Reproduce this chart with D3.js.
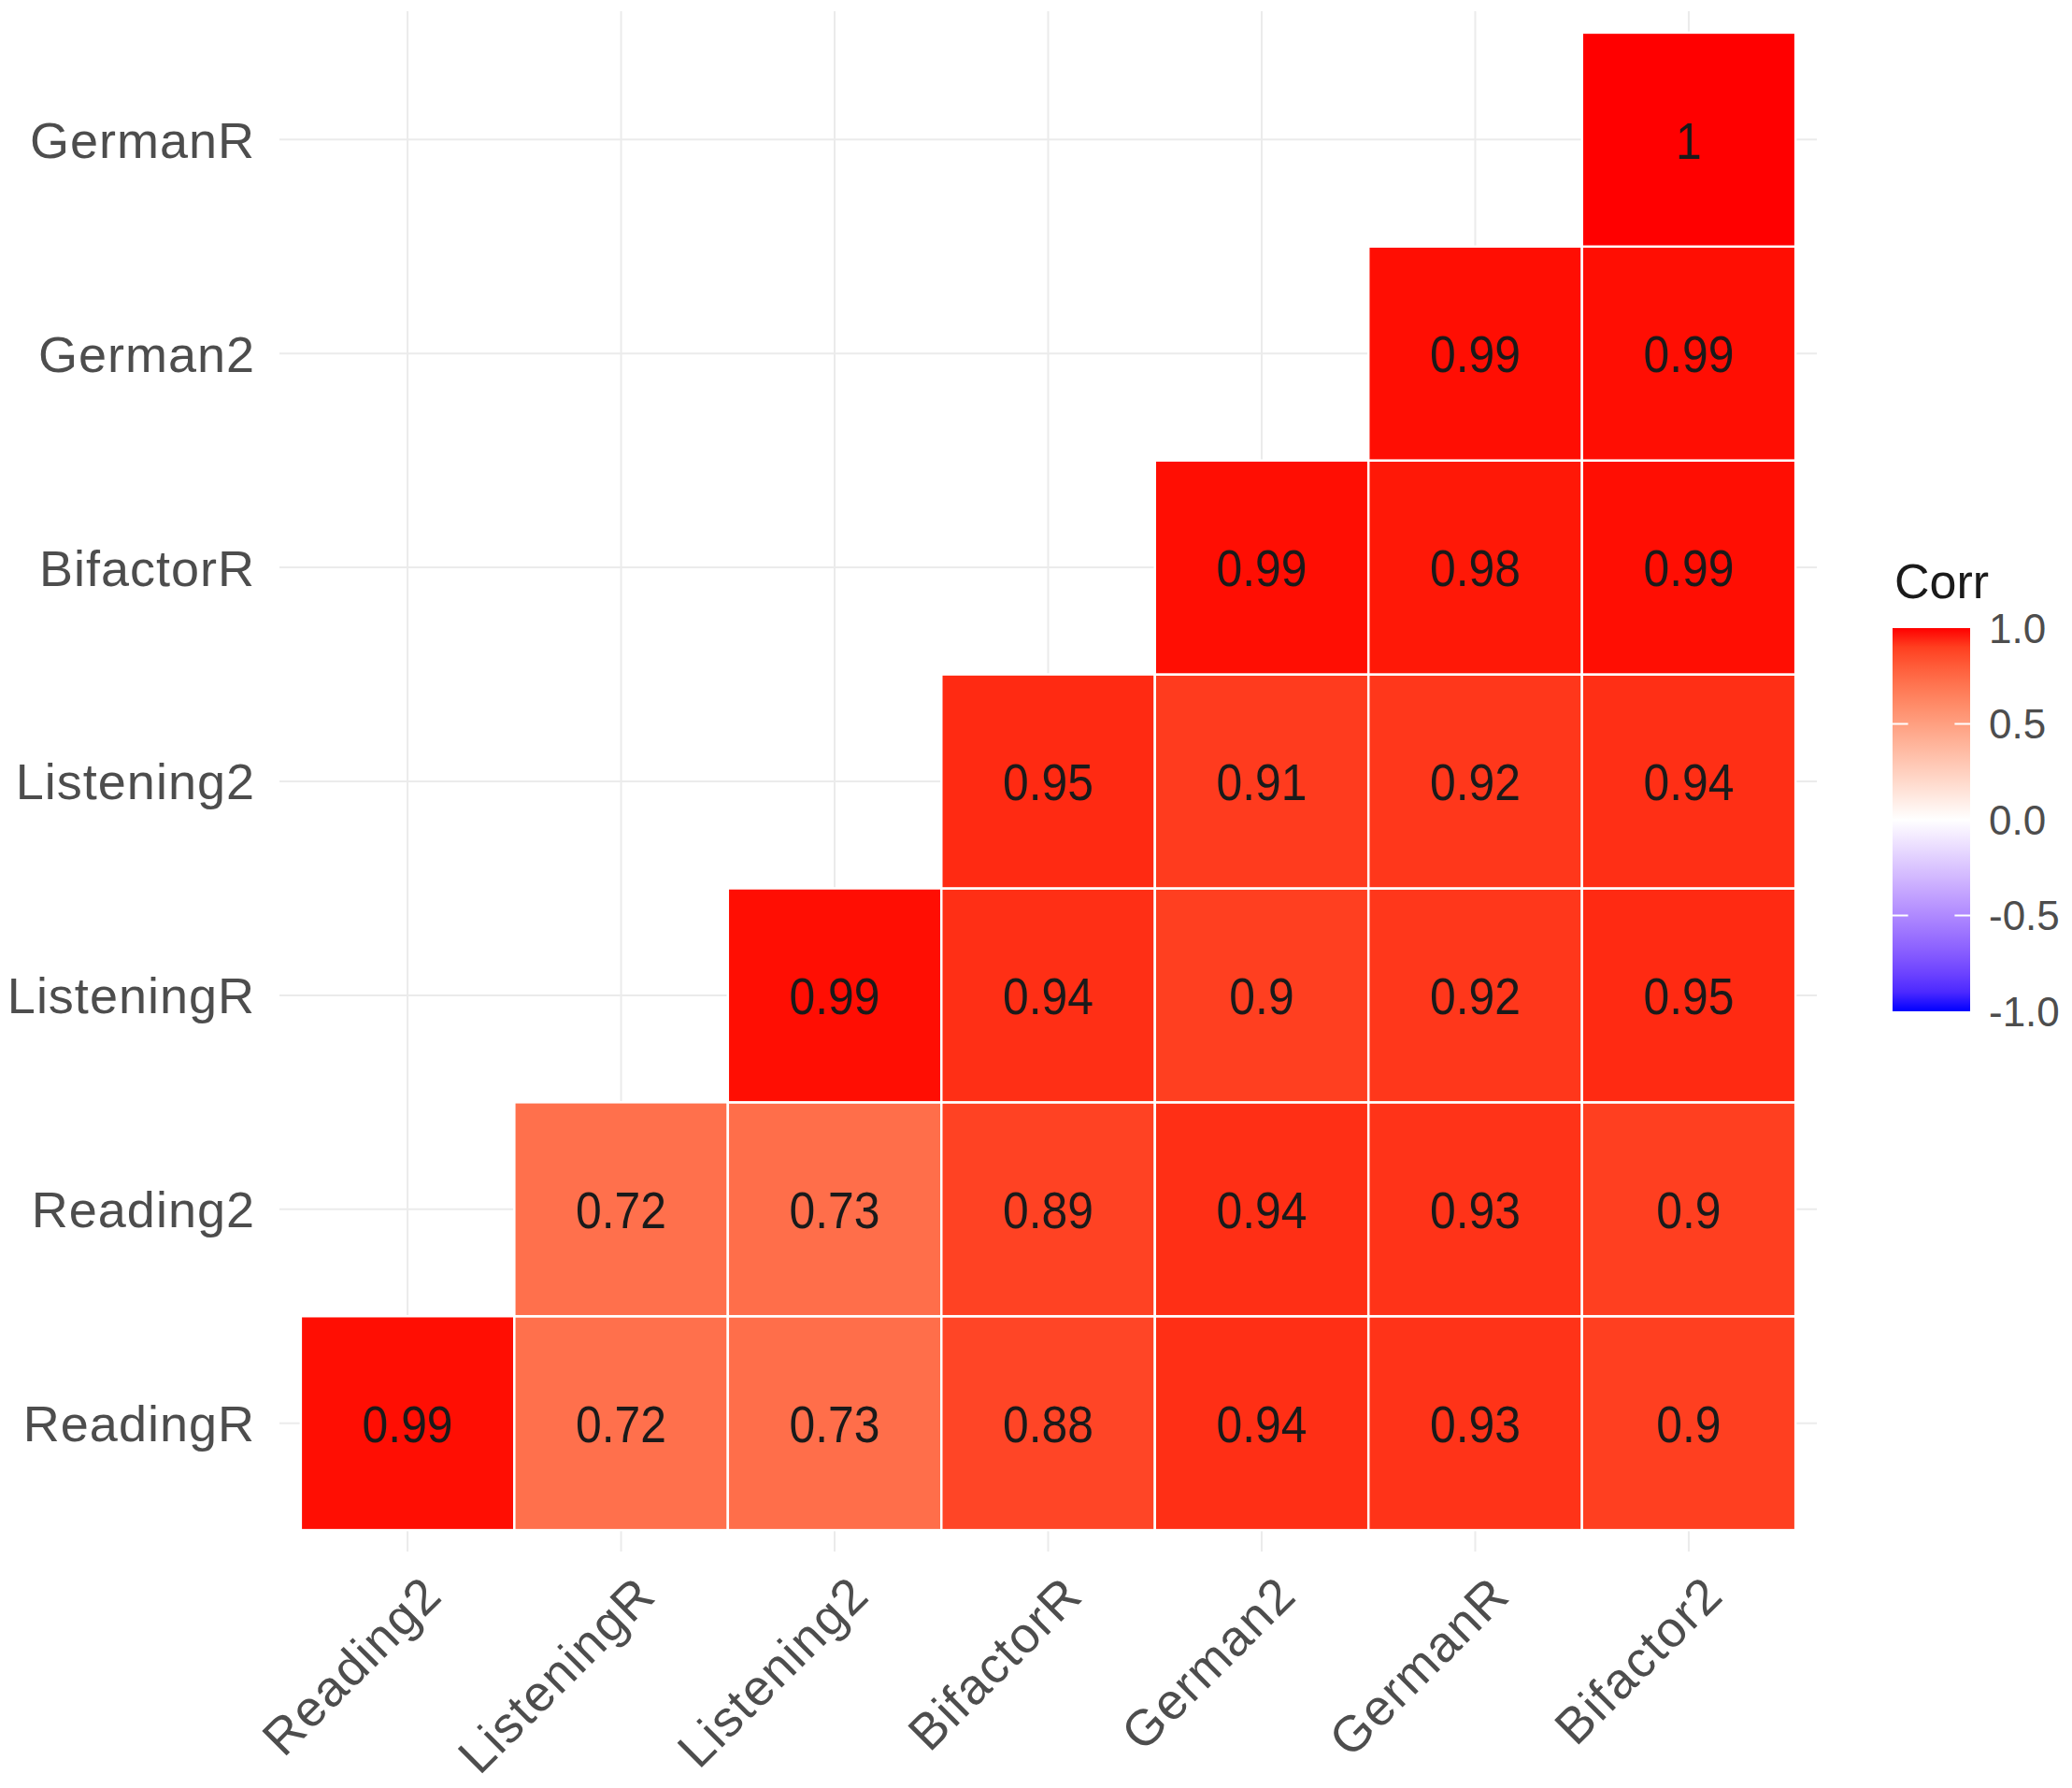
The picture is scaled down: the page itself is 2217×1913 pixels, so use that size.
<!DOCTYPE html>
<html>
<head>
<meta charset="utf-8">
<script src="https://cdn.jsdelivr.net/npm/d3@7"></script>
<style>
  html, body { margin: 0; padding: 0; background: #ffffff; }
  svg { display: block; }
  text { font-family: "Liberation Sans", Arial, sans-serif; }
</style>
</head>
<body>
<svg id="chart" width="2217" height="1913"></svg>
<script>
// ---- Data ----
const xCategories = ["Reading2", "ListeningR", "Listening2", "BifactorR", "German2", "GermanR", "Bifactor2"];
const yCategories = ["ReadingR", "Reading2", "ListeningR", "Listening2", "BifactorR", "German2", "GermanR"]; // bottom to top

// values per row (y category), aligned with xCategories; null = empty
const rowReadingR   = [0.99, 0.72, 0.73, 0.88, 0.94, 0.93, 0.9];
const rowReading2   = [null, 0.72, 0.73, 0.89, 0.94, 0.93, 0.9];
const rowListeningR = [null, null, 0.99, 0.94, 0.9, 0.92, 0.95];
const rowListening2 = [null, null, null, 0.95, 0.91, 0.92, 0.94];
const rowBifactorR  = [null, null, null, null, 0.99, 0.98, 0.99];
const rowGerman2    = [null, null, null, null, null, 0.99, 0.99];
const rowGermanR    = [null, null, null, null, null, null, 1];
const rows = [rowReadingR, rowReading2, rowListeningR, rowListening2, rowBifactorR, rowGerman2, rowGermanR];

const legendTicks = [1.0, 0.5, 0.0, -0.5, -1.0];
const legendTitle = "Corr";

// ---- Layout ----
const panel = { left: 299, right: 1944, top: 12, bottom: 1660 };
const svg = d3.select("#chart");

// discrete scales with ggplot-like expansion (0.6 units each side)
const nX = xCategories.length, nY = yCategories.length;
const xLin = d3.scaleLinear().domain([0.4, nX + 0.6]).range([panel.left, panel.right]);
const yLin = d3.scaleLinear().domain([0.4, nY + 0.6]).range([panel.bottom, panel.top]);
const xPos = c => xLin(xCategories.indexOf(c) + 1);
const yPos = c => yLin(yCategories.indexOf(c) + 1);
const unitW = xLin(1) - xLin(0);
const unitH = yLin(0) - yLin(1);

const color = d3.scaleLinear().domain([-1, 0, 1]).range(["#0000FF", "#FFFFFF", "#FF0000"]).interpolate(d3.interpolateLab);

const cells = [];
rows.forEach((r, i) => r.forEach((v, j) => {
  if (v !== null) cells.push({ x: xCategories[j], y: yCategories[i], v });
}));

// ---- Grid ----
const grid = svg.append("g");
grid.selectAll("line.v").data(xCategories).join("line")
  .attr("x1", d => xPos(d)).attr("x2", d => xPos(d))
  .attr("y1", panel.top).attr("y2", panel.bottom)
  .attr("stroke", "#ebebeb").attr("stroke-width", 2);
grid.selectAll("line.h").data(yCategories).join("line")
  .attr("y1", d => yPos(d)).attr("y2", d => yPos(d))
  .attr("x1", panel.left).attr("x2", panel.right)
  .attr("stroke", "#ebebeb").attr("stroke-width", 2);

// ---- Tiles ----
svg.append("g").selectAll("rect").data(cells).join("rect")
  .attr("x", d => xPos(d.x) - unitW / 2)
  .attr("y", d => yPos(d.y) - unitH / 2)
  .attr("width", unitW).attr("height", unitH)
  .attr("fill", d => color(d.v))
  .attr("stroke", "#ffffff").attr("stroke-width", 2.5);

// ---- Cell labels ----
svg.append("g").selectAll("text").data(cells).join("text")
  .attr("transform", d => `translate(${xPos(d.x)},${yPos(d.y)}) scale(0.89,1)`)
  .attr("text-anchor", "middle").attr("dy", "0.36em")
  .attr("font-size", 56).attr("fill", "#1a1a1a")
  .text(d => String(d.v));

// ---- Y axis labels ----
svg.append("g").selectAll("text").data(yCategories).join("text")
  .attr("x", 273).attr("y", d => yPos(d))
  .attr("text-anchor", "end").attr("dy", "0.36em")
  .attr("font-size", 54).attr("fill", "#4d4d4d")
  .attr("letter-spacing", 1)
  .text(d => d);

// ---- X axis labels ----
svg.append("g").selectAll("text").data(xCategories).join("text")
  .attr("transform", d => `translate(${xPos(d) + 12},${panel.bottom + 22}) rotate(-45)`)
  .attr("text-anchor", "end").attr("dy", "0.72em")
  .attr("font-size", 54).attr("fill", "#4d4d4d")
  .attr("letter-spacing", 1.5)
  .text(d => d);

// ---- Legend ----
const bar = { x: 2025, y: 672, w: 83, h: 410 };
const defs = svg.append("defs");
const grad = defs.append("linearGradient").attr("id", "corrGrad")
  .attr("x1", 0).attr("y1", 1).attr("x2", 0).attr("y2", 0);
d3.range(0, 21).forEach(i => {
  const t = i / 20;
  grad.append("stop").attr("offset", t).attr("stop-color", color(-1 + 2 * t));
});
svg.append("rect").attr("x", bar.x).attr("y", bar.y).attr("width", bar.w).attr("height", bar.h)
  .attr("fill", "url(#corrGrad)");
const legScale = d3.scaleLinear().domain([-1, 1]).range([bar.y + bar.h, bar.y]);
const tickLen = bar.w / 5;
const lt = svg.append("g");
lt.selectAll("line.l").data(legendTicks.filter(t => Math.abs(t) < 1)).join("line")
  .attr("x1", bar.x).attr("x2", bar.x + tickLen)
  .attr("y1", d => legScale(d)).attr("y2", d => legScale(d))
  .attr("stroke", "#ffffff").attr("stroke-width", 2);
lt.selectAll("line.r").data(legendTicks.filter(t => Math.abs(t) < 1)).join("line")
  .attr("x1", bar.x + bar.w - tickLen).attr("x2", bar.x + bar.w)
  .attr("y1", d => legScale(d)).attr("y2", d => legScale(d))
  .attr("stroke", "#ffffff").attr("stroke-width", 2);
svg.append("g").selectAll("text").data(legendTicks).join("text")
  .attr("x", bar.x + bar.w + 20).attr("y", d => legScale(d))
  .attr("dy", "0.36em").attr("font-size", 44).attr("fill", "#4d4d4d")
  .text(d => d3.format(".1f")(d).replace("−", "-"));
svg.append("text").attr("x", bar.x + 2).attr("y", bar.y - 32)
  .attr("font-size", 52).attr("fill", "#1a1a1a")
  .text(legendTitle);
</script>
</body>
</html>
